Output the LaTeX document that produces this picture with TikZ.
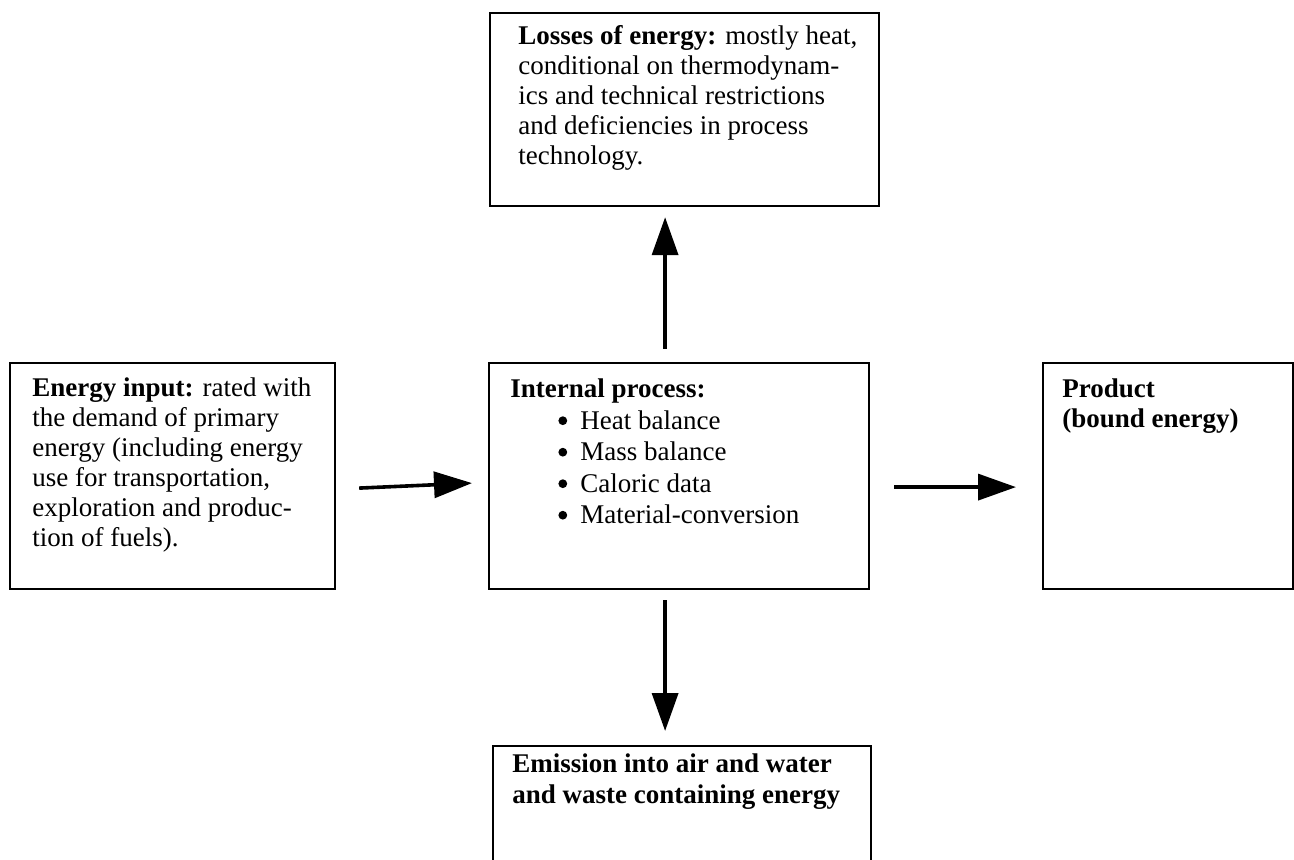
\documentclass[tikz,border=0pt]{standalone}
\usepackage{fontspec}
\setmainfont{Liberation Serif}
\usetikzlibrary{arrows.meta,calc}
\tikzset{
  box/.style={draw, line width=1.1pt, inner sep=0pt, anchor=north west},
  txt/.style={anchor=base west, inner sep=0pt},
  arr/.style={-{Triangle[length=19pt,width=13pt]}, line width=1.8pt},
}
\newcommand{\bitem}[1]{\hspace{24pt}\makebox[11pt][l]{\tikz[baseline=0pt,x=1pt,y=1pt]\fill (2.2,4.4) circle (2.2);}#1}
\begin{document}
\begin{tikzpicture}[x=0.5pt,y=-0.5pt]
\clip (0,0) rectangle (1294,860);
\fill[white] (0,0) rectangle (1294,860);
% boxes
\node[box, minimum width=162.5pt, minimum height=113pt] (ein) at (9,362) {};
\node[box, minimum width=194.5pt, minimum height=96.5pt] (los) at (489,12) {};
\node[box, minimum width=190pt, minimum height=113pt] (int) at (488,362) {};
\node[box, minimum width=125pt, minimum height=113pt] (prod) at (1042,362) {};
\node[box, minimum width=189pt, minimum height=70pt] (emi) at (492,745) {};
% texts
\node[txt] (eintxt) at (32,397) {\fontsize{13.5pt}{15pt}\selectfont
  \begin{tabular}[t]{@{}l@{}}
  \textbf{Energy input:} rated with\\
  the demand of primary\\
  energy (including energy\\
  use for transportation,\\
  exploration and produc-\\
  tion of fuels).
  \end{tabular}};
\node[txt] (lostxt) at (518,45) {\fontsize{13.5pt}{15pt}\selectfont
  \begin{tabular}[t]{@{}l@{}}
  \textbf{Losses of energy:} mostly heat,\\
  conditional on thermodynam-\\
  ics and technical restrictions\\
  and deficiencies in process\\
  technology.
  \end{tabular}};
\node[txt] (inttxt) at (510,398) {\fontsize{13.5pt}{15.75pt}\selectfont
  \begin{tabular}[t]{@{}l@{}}
  \textbf{Internal process:}\\
  \bitem{Heat balance}\\
  \bitem{Mass balance}\\
  \bitem{Caloric data}\\
  \bitem{Material-conversion}
  \end{tabular}};
\node[txt] (prodtxt) at (1062,398) {\fontsize{13.5pt}{15pt}\selectfont
  \begin{tabular}[t]{@{}l@{}}
  \textbf{Product}\\
  \textbf{(bound energy)}
  \end{tabular}};
\node[txt] (emitxt) at (512,772) {\fontsize{13.5pt}{15.5pt}\selectfont
  \begin{tabular}[t]{@{}l@{}}
  \textbf{Emission into air and water}\\
  \textbf{and waste containing energy}
  \end{tabular}};
% arrows
\draw[arr] ($(ein.east)+(23,12)$) -- ($(int.west)+(-16,7)$);
\draw[arr] ($(int.east)+(24,11)$) -- ($(prod.west)+(-26,11)$);
\draw[arr] ($(int.north)+(-14,-13)$) -- ($(los.south)+(-19.5,10)$);
\draw[arr] ($(int.south)+(-14,10)$) -- ($(emi.north)+(-17,-14)$);
\end{tikzpicture}
\end{document}
